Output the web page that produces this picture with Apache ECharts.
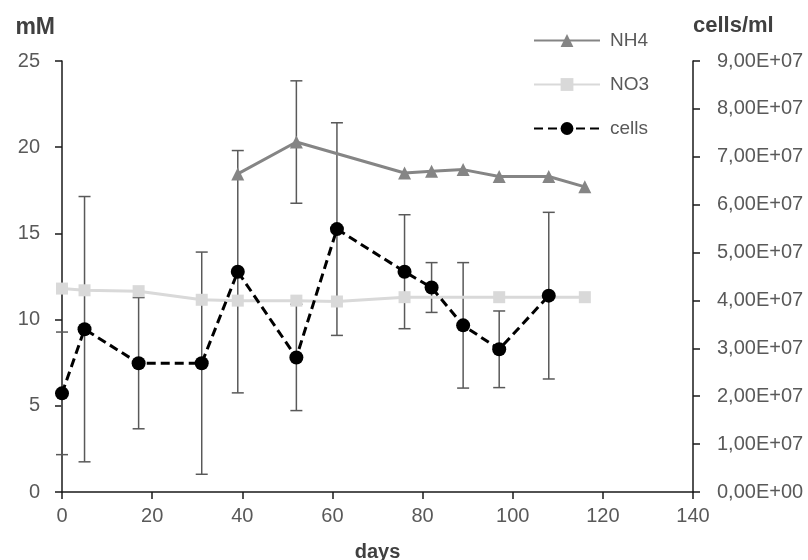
<!DOCTYPE html>
<html>
<head>
<meta charset="utf-8">
<title>NH4 / NO3 / cells</title>
<script src="https://cdn.jsdelivr.net/npm/echarts@6/dist/echarts.min.js"></script>
<style>
  html, body { margin: 0; padding: 0; background: #fff; }
  #chart { width: 808px; height: 560px; }
</style>
</head>
<body>
<div id="chart"></div>
<script>
// NH4 (mM)
var nh4Days = [39, 52, 76, 82, 89, 97, 108, 116];
var nh4Values = [18.45, 20.3, 18.5, 18.6, 18.7, 18.3, 18.3, 17.7];
var nh4Err = [0, 3.55, 0, 0, 0, 0, 0, 0];

// NO3 (mM)
var no3Days = [0, 5, 17, 31, 39, 52, 61, 76, 97, 116];
var no3Values = [11.8, 11.7, 11.65, 11.15, 11.1, 11.1, 11.05, 11.3, 11.3, 11.3];

// cells (cells/ml)
var cellDays = [0, 5, 17, 31, 39, 52, 61, 76, 82, 89, 97, 108];
var cellValues = [2.06e7, 3.40e7, 2.69e7, 2.69e7, 4.60e7, 2.81e7, 5.49e7, 4.60e7, 4.27e7, 3.48e7, 2.98e7, 4.10e7];
var cellErr = [1.28e7, 2.77e7, 1.37e7, 2.32e7, 2.53e7, 1.11e7, 2.22e7, 1.19e7, 5.2e6, 1.31e7, 8.0e6, 1.74e7];

var seriesNames = ["NH4", "NO3", "cells"];

var labelColor = "#595959";
var axisColor = "#1a1a1a";
var font = "Liberation Sans, Arial, sans-serif";

function zip(xs, ys) {
  return xs.map(function (x, i) { return [x, ys[i]]; });
}

function zip3(xs, ys, es) {
  var out = [];
  for (var i = 0; i < xs.length; i++) {
    if (es[i] > 0) out.push([xs[i], ys[i], es[i]]);
  }
  return out;
}

// 9,00E+07 style labels
function sci(v) {
  if (v === 0) return "0,00E+00";
  var e = Math.floor(Math.log10(v) + 1e-9);
  var m = v / Math.pow(10, e);
  return m.toFixed(2).replace(".", ",") + "E+" + (e < 10 ? "0" + e : e);
}

// vertical error bar with caps
function errorBar(params, api) {
  var x = api.value(0), y = api.value(1), e = api.value(2);
  var top = api.coord([x, y + e]);
  var bot = api.coord([x, y - e]);
  var w = 6;
  var st = { stroke: "#595959", lineWidth: 1.5 };
  return {
    type: "group",
    children: [
      { type: "line", shape: { x1: top[0], y1: top[1], x2: bot[0], y2: bot[1] }, style: st },
      { type: "line", shape: { x1: top[0] - w, y1: top[1], x2: top[0] + w, y2: top[1] }, style: st },
      { type: "line", shape: { x1: bot[0] - w, y1: bot[1], x2: bot[0] + w, y2: bot[1] }, style: st }
    ]
  };
}

var chart = echarts.init(document.getElementById("chart"));

chart.setOption({
  animation: false,
  textStyle: { fontFamily: font },
  grid: { left: 62, right: 115, top: 61, bottom: 68, outerBoundsMode: "none", containLabel: false },
  legend: {
    data: seriesNames,
    orient: "vertical",
    left: 533,
    top: 31,
    padding: 0,
    itemWidth: 66,
    itemHeight: 16,
    itemGap: 25,
    textStyle: { color: labelColor, fontSize: 19, fontFamily: font, padding: [0, 0, 0, 5] }
  },
  xAxis: {
    type: "value",
    min: 0,
    max: 140,
    interval: 20,
    name: "days",
    nameLocation: "middle",
    nameGap: 50,
    nameTextStyle: { color: "#404040", fontSize: 20, fontWeight: "bold", fontFamily: font },
    axisLine: { lineStyle: { color: axisColor, width: 1.5 } },
    axisTick: { length: 7, lineStyle: { color: axisColor, width: 1.5 } },
    axisLabel: { color: labelColor, fontSize: 20, margin: 14 },
    splitLine: { show: false }
  },
  yAxis: [
    {
      type: "value",
      min: 0,
      max: 25,
      interval: 5,
      name: "mM",
      nameLocation: "end",
      nameGap: 22,
      nameTextStyle: { color: "#404040", fontSize: 23, fontWeight: "bold", fontFamily: font, align: "right", padding: [0, 7, 0, 0] },
      axisLine: { show: true, lineStyle: { color: axisColor, width: 1.5 } },
      axisTick: { show: true, length: 7, lineStyle: { color: axisColor, width: 1.5 } },
      axisLabel: { color: labelColor, fontSize: 20, margin: 22 },
      splitLine: { show: false }
    },
    {
      type: "value",
      position: "right",
      min: 0,
      max: 9e7,
      interval: 1e7,
      name: "cells/ml",
      nameLocation: "end",
      nameGap: 24,
      nameTextStyle: { color: "#404040", fontSize: 22, fontWeight: "bold", fontFamily: font, align: "left" },
      axisLine: { show: true, lineStyle: { color: axisColor, width: 1.5 } },
      axisTick: { show: true, length: 7, lineStyle: { color: axisColor, width: 1.5 } },
      axisLabel: { color: labelColor, fontSize: 20, margin: 24, formatter: sci },
      splitLine: { show: false }
    }
  ],
  series: [
    {
      name: "NH4",
      type: "line",
      data: zip(nh4Days, nh4Values),
      symbol: "triangle",
      symbolSize: 13,
      itemStyle: { color: "#858585" },
      lineStyle: { color: "#858585", width: 3 }
    },
    {
      name: "NO3",
      type: "line",
      data: zip(no3Days, no3Values),
      symbol: "rect",
      symbolSize: 12,
      itemStyle: { color: "#d9d9d9" },
      lineStyle: { color: "#d9d9d9", width: 3 }
    },
    {
      name: "nh4-err",
      type: "custom",
      renderItem: errorBar,
      data: zip3(nh4Days, nh4Values, nh4Err)
    },
    {
      name: "cells-err",
      type: "custom",
      yAxisIndex: 1,
      renderItem: errorBar,
      data: zip3(cellDays, cellValues, cellErr)
    },
    {
      name: "cells",
      type: "line",
      yAxisIndex: 1,
      data: zip(cellDays, cellValues),
      symbol: "circle",
      symbolSize: 14,
      itemStyle: { color: "#000" },
      lineStyle: { color: "#000", width: 3, type: [9, 5] }
    }
  ]
});
</script>
</body>
</html>
